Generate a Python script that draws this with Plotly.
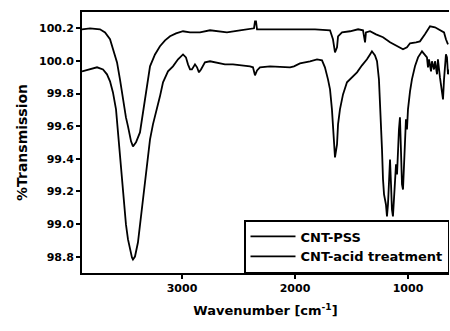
import plotly.graph_objects as go

# Upper trace (CNT-PSS)
wn_pss = [3885, 3814, 3726, 3681, 3637, 3602, 3575, 3549, 3522, 3496, 3478, 3451, 3434, 3407, 3372,
          3336, 3310, 3283, 3239, 3195, 3150, 3106, 3053, 2991, 2929, 2841, 2752, 2690, 2602, 2487,
          2398, 2363, 2354, 2345, 2336, 2310, 2133, 1956, 1823, 1690, 1664, 1646, 1628, 1619, 1584,
          1513, 1442, 1398, 1389, 1380, 1372, 1336, 1283, 1221, 1159, 1097, 1044, 1009, 982, 929,
          894, 850, 805, 761, 717, 681, 664, 646]
t_pss = [100.194, 100.200, 100.194, 100.175, 100.133, 100.059, 99.991, 99.887, 99.764, 99.654, 99.599,
         99.507, 99.476, 99.501, 99.562, 99.734, 99.869, 99.967, 100.040, 100.090, 100.126, 100.151,
         100.169, 100.182, 100.175, 100.175, 100.188, 100.182, 100.175, 100.188, 100.194, 100.200,
         100.243, 100.243, 100.194, 100.194, 100.194, 100.194, 100.194, 100.188, 100.133, 100.053,
         100.084, 100.151, 100.175, 100.182, 100.194, 100.188, 100.151, 100.114, 100.175, 100.182,
         100.163, 100.145, 100.114, 100.090, 100.071, 100.083, 100.108, 100.114, 100.120, 100.163,
         100.212, 100.206, 100.188, 100.175, 100.133, 100.102]

# Lower trace (CNT-acid treatment)
wn_acid = [3885, 3814, 3752, 3699, 3664, 3637, 3611, 3584, 3566, 3549, 3531, 3513, 3496, 3478, 3460,
           3443, 3434, 3416, 3390, 3372, 3345, 3319, 3301, 3283, 3257, 3221, 3195, 3168, 3124, 3080,
           3035, 2991, 2965, 2947, 2929, 2912, 2885, 2867, 2850, 2832, 2797, 2752, 2690, 2620, 2549,
           2460, 2398, 2372, 2354, 2336, 2310, 2221, 2106, 2044, 2009, 1956, 1867, 1805, 1761, 1735,
           1708, 1690, 1673, 1664, 1655, 1646, 1628, 1619, 1602, 1575, 1540, 1496, 1451, 1407, 1363,
           1336, 1319, 1292, 1274, 1257, 1248, 1239, 1230, 1221, 1212, 1195, 1186, 1177, 1168, 1159,
           1150, 1142, 1133, 1124, 1115, 1106, 1097, 1089, 1080, 1071, 1062, 1053, 1044, 1035, 1027,
           1018, 1009, 1000, 982, 965, 938, 911, 876, 850, 832, 823, 814, 796, 788, 770, 761, 743,
           735, 717, 699, 690, 681, 664, 655, 646, 637]
t_acid = [99.936, 99.948, 99.961, 99.948, 99.918, 99.875, 99.807, 99.703, 99.562, 99.427, 99.274,
          99.120, 98.998, 98.906, 98.844, 98.795, 98.783, 98.801, 98.887, 98.998, 99.151, 99.304,
          99.396, 99.519, 99.611, 99.703, 99.783, 99.869, 99.936, 99.967, 100.010, 100.040, 100.022,
          99.979, 99.948, 99.948, 99.979, 99.961, 99.930, 99.948, 99.991, 99.998, 99.991, 99.979,
          99.979, 99.973, 99.967, 99.961, 99.912, 99.942, 99.961, 99.967, 99.961, 99.961, 99.967,
          99.985, 99.998, 100.010, 100.004, 99.961, 99.887, 99.826, 99.703, 99.580, 99.488, 99.409,
          99.488, 99.611, 99.703, 99.795, 99.869, 99.899, 99.930, 99.973, 100.010, 100.040, 100.059,
          100.034, 99.998, 99.887, 99.764, 99.611, 99.458, 99.274, 99.182, 99.120, 99.047, 99.120,
          99.304, 99.396, 99.243, 99.090, 99.047, 99.151, 99.274, 99.366, 99.304, 99.458, 99.580,
          99.654, 99.458, 99.243, 99.212, 99.366, 99.519, 99.642, 99.580, 99.703, 99.813, 99.887,
          99.967, 100.022, 100.059, 100.040, 100.022, 99.961, 100.010, 99.936, 99.998, 99.948,
          99.998, 99.918, 100.010, 99.899, 99.826, 99.764, 99.887, 100.040, 100.022, 99.918, 99.948]

x_ticks = [3000, 2000, 1000]
x_labels = ["3000", "2000", "1000"]
y_ticks = [98.8, 99.0, 99.2, 99.4, 99.6, 99.8, 100.0, 100.2]
y_labels = ["98.8", "99.0", "99.2", "99.4", "99.6", "99.8", "100.0", "100.2"]

FONT = "DejaVu Sans"

fig = go.Figure()
fig.add_trace(go.Scatter(x=wn_pss, y=t_pss, mode="lines", name="CNT-PSS",
                         line=dict(color="black", width=1.8)))
fig.add_trace(go.Scatter(x=wn_acid, y=t_acid, mode="lines", name="CNT-acid treatment",
                         line=dict(color="black", width=1.8)))

fig.update_layout(
    width=450, height=331,
    margin=dict(l=82, r=1, t=12, b=58, autoexpand=False),
    paper_bgcolor="white", plot_bgcolor="white",
    font=dict(family=FONT, color="black"),
    showlegend=True,
    legend=dict(x=1, y=0, xanchor="right", yanchor="bottom",
                bordercolor="black", borderwidth=1.5, bgcolor="white",
                font=dict(family=FONT, size=13, color="black", weight="bold"),
                itemwidth=45, tracegroupgap=0),
    xaxis=dict(range=[3885, 637], tickvals=x_ticks, ticktext=x_labels,
               ticks="outside", ticklen=4, tickwidth=2, tickcolor="black",
               showline=True, linewidth=2, linecolor="black", mirror=True,
               showgrid=False, zeroline=False, automargin=False,
               tickfont=dict(family=FONT, size=11, weight="bold"),
               title=dict(text="Wavenumber [cm<sup>-1</sup>]", standoff=12,
                          font=dict(family=FONT, size=13, weight="bold"))),
    yaxis=dict(range=[98.70, 100.30], tickvals=y_ticks, ticktext=y_labels,
               ticks="outside", ticklen=4, tickwidth=2, tickcolor="black",
               showline=True, linewidth=2, linecolor="black", mirror=False,
               showgrid=False, zeroline=False, automargin=False,
               tickfont=dict(family=FONT, size=11, weight="bold"),
               title=dict(text="%Transmission", standoff=8,
                          font=dict(family=FONT, size=14, weight="bold"))),
)

# remove the page's default 8px body margin so the 450x331 figure fills the window exactly
fig.write_html("out.html", config={"displayModeBar": False},
               post_script="document.body.style.margin='0';document.body.style.overflow='hidden';")
